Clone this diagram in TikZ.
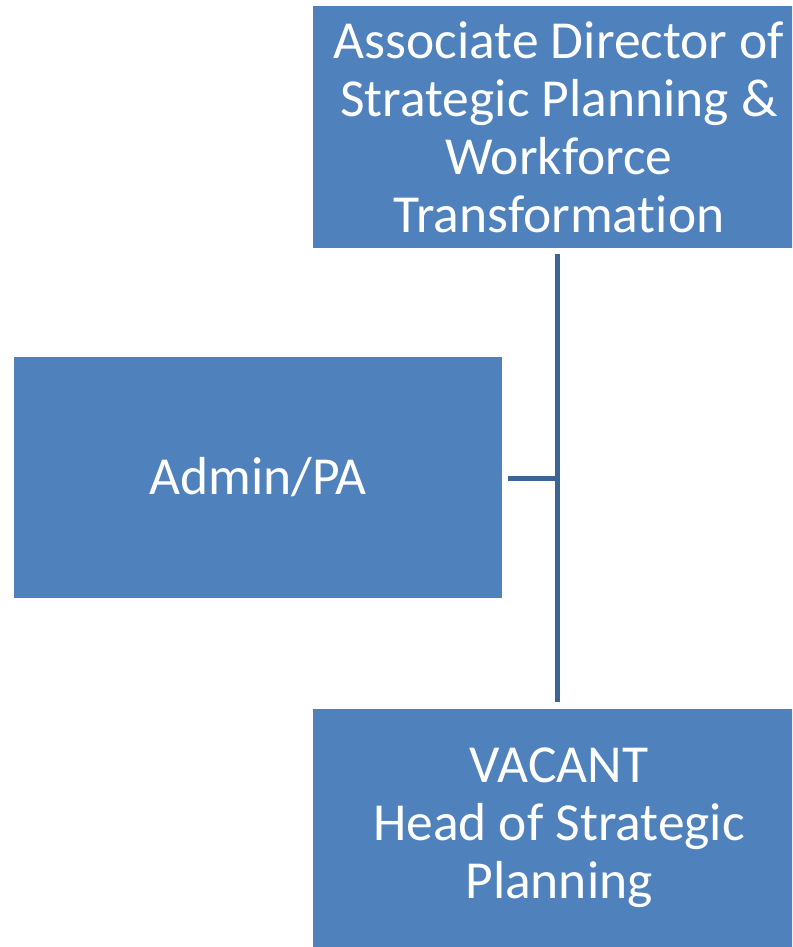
\documentclass[tikz,border=0pt]{standalone}
\usepackage{fontspec}
\setmainfont[Ligatures=NoCommon]{Carlito}
\definecolor{boxblue}{HTML}{4F81BD}
\definecolor{lineblue}{HTML}{3C6494}
\begin{document}
\begin{tikzpicture}[x=1pt,y=-1pt,
  orgbox/.style={draw=none,fill=boxblue,text=white,align=center,inner sep=0pt,
    font=\fontsize{53.5}{58}\selectfont},
  conn/.style={draw=lineblue,line width=5pt}]
\useasboundingbox (0,0) rectangle (792,947);
\begin{scope}
\clip (0,0) rectangle (792,947);
\node[orgbox,minimum width=492pt,minimum height=241pt] (top) at (559,127)
  {Associate Director of\\Strategic Planning \&\\Workforce\\Transformation};
\node[orgbox,minimum width=488pt,minimum height=241pt] (admin) at (258,477.5) {Admin/PA};
\node[orgbox,minimum width=492pt,minimum height=239pt] (head) at (559,828)
  {VACANT\\Head of Strategic\\Planning};
\end{scope}
\coordinate (j) at (557.5,478.5);
\draw[conn] ([yshift=-6pt]top.south -| j) -- ([yshift=6pt]head.north -| j);
\draw[conn] ([xshift=6pt]admin.east |- j) -- ([xshift=2.5pt]j);
\end{tikzpicture}
\end{document}
